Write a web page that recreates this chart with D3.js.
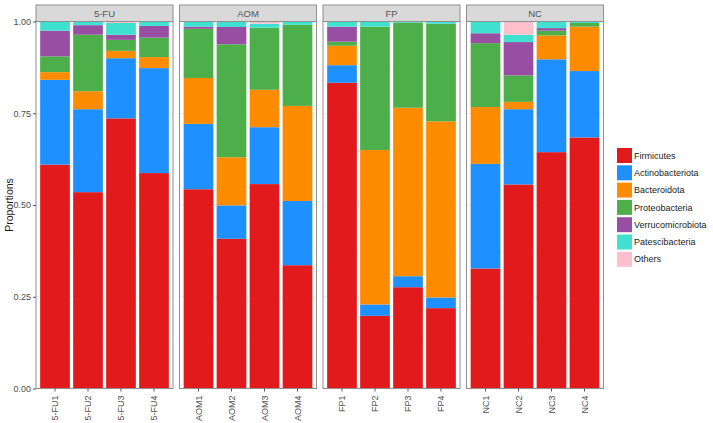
<!DOCTYPE html>
<html>
<head>
<meta charset="utf-8">
<script src="https://cdn.jsdelivr.net/npm/d3@7"></script>
<style>
  html, body { margin: 0; padding: 0; background: #fff; }
  text { font-family: "Liberation Sans", Arial, Helvetica, sans-serif; }
</style>
</head>
<body>
<svg id="chart" width="713" height="423"></svg>
<script>
// ---------------- data ----------------
const groups = ["5-FU", "AOM", "FP", "NC"];
const samples = ["5-FU1", "5-FU2", "5-FU3", "5-FU4",
                 "AOM1", "AOM2", "AOM3", "AOM4",
                 "FP1", "FP2", "FP3", "FP4",
                 "NC1", "NC2", "NC3", "NC4"];
const sampleGroup = ["5-FU", "5-FU", "5-FU", "5-FU",
                     "AOM", "AOM", "AOM", "AOM",
                     "FP", "FP", "FP", "FP",
                     "NC", "NC", "NC", "NC"];
const phyla = ["Firmicutes", "Actinobacteriota", "Bacteroidota", "Proteobacteria",
               "Verrucomicrobiota", "Patescibacteria", "Others"];
const phylumColors = ["#E31A1C", "#1E90FF", "#FF8C00", "#4DAF4A", "#984EA3", "#40E0D0", "#FFC0CB"];

const firmicutes        = [0.610, 0.535, 0.736, 0.587, 0.543, 0.408, 0.557, 0.336, 0.833, 0.198, 0.276, 0.219, 0.327, 0.556, 0.644, 0.684];
const actinobacteriota  = [0.231, 0.226, 0.164, 0.286, 0.178, 0.091, 0.155, 0.175, 0.048, 0.031, 0.030, 0.029, 0.285, 0.205, 0.253, 0.181];
const bacteroidota      = [0.021, 0.049, 0.020, 0.030, 0.125, 0.131, 0.102, 0.259, 0.053, 0.421, 0.459, 0.480, 0.155, 0.020, 0.065, 0.121];
const proteobacteria    = [0.043, 0.154, 0.030, 0.053, 0.134, 0.308, 0.169, 0.221, 0.011, 0.336, 0.232, 0.266, 0.174, 0.072, 0.013, 0.010];
const verrucomicrobiota = [0.070, 0.026, 0.014, 0.032, 0.006, 0.047, 0.000, 0.000, 0.041, 0.000, 0.000, 0.000, 0.027, 0.091, 0.007, 0.000];
const patescibacteria   = [0.025, 0.010, 0.032, 0.012, 0.014, 0.015, 0.011, 0.009, 0.014, 0.014, 0.003, 0.006, 0.032, 0.020, 0.018, 0.004];
const others            = [0.000, 0.000, 0.004, 0.000, 0.000, 0.000, 0.006, 0.000, 0.000, 0.000, 0.000, 0.000, 0.000, 0.036, 0.000, 0.000];

const yTicks = [0, 0.25, 0.5, 0.75, 1];
const yTickLabels = ["0.00", "0.25", "0.50", "0.75", "1.00"];
const yMinor = [0.125, 0.375, 0.625, 0.875];

// ---------------- build table ----------------
const seriesArrays = [firmicutes, actinobacteriota, bacteroidota, proteobacteria, verrucomicrobiota, patescibacteria, others];
const table = samples.map((s, i) => {
  const row = { sample: s, group: sampleGroup[i] };
  phyla.forEach((p, k) => { row[p] = seriesArrays[k][i]; });
  return row;
});
const stacked = d3.stack().keys(phyla)(table);
const color = d3.scaleOrdinal().domain(phyla).range(phylumColors);

// ---------------- layout ----------------
const svg = d3.select("#chart");
const panelTop = 21.5, panelBottom = 388.5;
const stripTop = 5, stripH = panelTop - stripTop;

const y = d3.scaleLinear().domain([0, 1]).range([panelBottom, panelTop]);
const fx = d3.scaleBand().domain(groups).range([36, 603.5]).paddingInner(0.0453);
const xInner = {};
groups.forEach(g => {
  xInner[g] = d3.scaleBand()
    .domain(samples.filter((s, i) => sampleGroup[i] === g))
    .range([0, fx.bandwidth()])
    .paddingInner(0.1)
    .paddingOuter(0.126);
});

const borderCol = "#8f8f8f";

groups.forEach(g => {
  const gx = fx(g);
  const pg = svg.append("g").attr("transform", `translate(${gx},0)`);
  const xs = xInner[g];
  const w = fx.bandwidth();

  // grid
  pg.selectAll("line.minor").data(yMinor).join("line")
    .attr("x1", 0).attr("x2", w)
    .attr("y1", d => y(d)).attr("y2", d => y(d))
    .attr("stroke", "#f2f2f2").attr("stroke-width", 0.5);
  pg.selectAll("line.major").data(yTicks).join("line")
    .attr("x1", 0).attr("x2", w)
    .attr("y1", d => y(d)).attr("y2", d => y(d))
    .attr("stroke", "#ebebeb").attr("stroke-width", 1);
  pg.selectAll("line.vmajor").data(xs.domain()).join("line")
    .attr("x1", d => xs(d) + xs.bandwidth() / 2).attr("x2", d => xs(d) + xs.bandwidth() / 2)
    .attr("y1", panelTop).attr("y2", panelBottom)
    .attr("stroke", "#ebebeb").attr("stroke-width", 1);

  // bars
  stacked.forEach(layer => {
    pg.append("g").attr("fill", color(layer.key))
      .selectAll("rect")
      .data(layer.filter(d => d.data.group === g))
      .join("rect")
      .attr("x", d => xs(d.data.sample))
      .attr("width", xs.bandwidth())
      .attr("y", d => y(d[1]))
      .attr("height", d => Math.max(0, y(d[0]) - y(d[1])));
  });

  // panel border
  pg.append("rect")
    .attr("x", 0).attr("y", panelTop)
    .attr("width", w).attr("height", panelBottom - panelTop)
    .attr("fill", "none").attr("stroke", borderCol).attr("stroke-width", 1);

  // strip
  pg.append("rect")
    .attr("x", 0).attr("y", stripTop)
    .attr("width", w).attr("height", stripH)
    .attr("fill", "#d9d9d9").attr("stroke", borderCol).attr("stroke-width", 1);
  pg.append("text")
    .attr("x", w / 2).attr("y", stripTop + stripH / 2)
    .attr("dy", "0.35em").attr("text-anchor", "middle")
    .attr("font-size", 9.5).attr("font-weight", "normal").attr("fill", "#555")
    .text(g);

  // x axis
  const xAxis = d3.axisBottom(xs).tickSize(3).tickSizeOuter(0);
  const ax = pg.append("g").attr("transform", `translate(0,${panelBottom})`).call(xAxis);
  ax.select(".domain").remove();
  ax.selectAll(".tick line").attr("stroke", "#555");
  ax.selectAll(".tick text")
    .attr("transform", "rotate(-90)")
    .attr("text-anchor", "end")
    .attr("x", -7).attr("y", 0).attr("dy", "0.35em")
    .attr("font-size", 9).attr("fill", "#4d4d4d")
    .style("font-family", "'Liberation Sans', Arial, sans-serif");
});

// y axis
const yAxis = d3.axisLeft(y).tickValues(yTicks)
  .tickFormat((d, i) => yTickLabels[i]).tickSize(3).tickSizeOuter(0);
const yax = svg.append("g").attr("transform", `translate(${fx(groups[0])},0)`).call(yAxis);
yax.select(".domain").remove();
yax.selectAll(".tick line").attr("stroke", "#555");
yax.selectAll(".tick text")
  .attr("x", -5)
  .attr("font-size", 9).attr("fill", "#4d4d4d")
  .style("font-family", "'Liberation Sans', Arial, sans-serif");

svg.append("text")
  .attr("transform", `translate(9,${(panelTop + panelBottom) / 2}) rotate(-90)`)
  .attr("text-anchor", "middle").attr("dy", "0.35em")
  .attr("font-size", 10.5).attr("fill", "#1a1a1a")
  .text("Proportions");

// legend
const legend = svg.append("g").attr("transform", "translate(617,148)");
const li = legend.selectAll("g").data(phyla).join("g")
  .attr("transform", (d, i) => `translate(0,${i * 17.3})`);
li.append("rect").attr("width", 15).attr("height", 15)
  .attr("fill", d => color(d));
li.append("text").attr("x", 17).attr("y", 7.5).attr("dy", "0.35em")
  .attr("font-size", 9).attr("fill", "#1a1a1a")
  .text(d => d);
</script>
</body>
</html>
